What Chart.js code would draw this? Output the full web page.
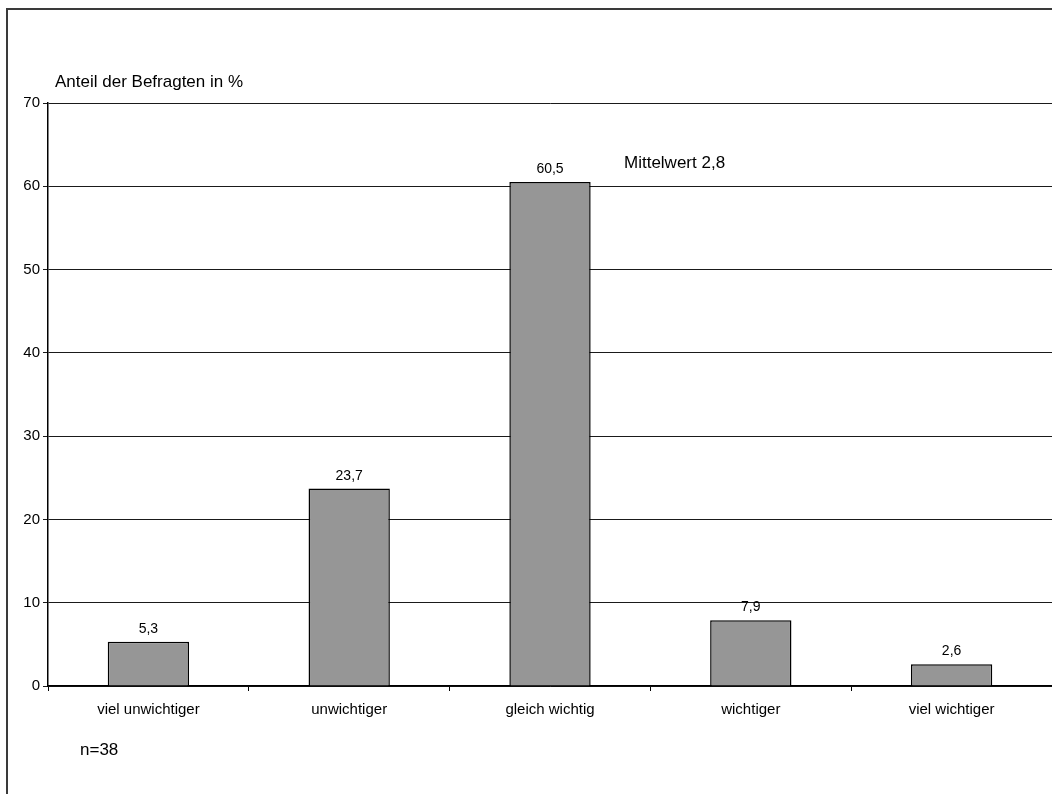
<!DOCTYPE html>
<html lang="de">
<head>
<meta charset="utf-8">
<title>Anteil der Befragten</title>
<script src="https://cdn.jsdelivr.net/npm/chart.js@4/dist/chart.umd.min.js"></script>
<style>
  html, body { margin: 0; padding: 0; background: #ffffff; }
  canvas { display: block; }
</style>
</head>
<body>
<canvas id="chart" width="1052" height="794"></canvas>
<script>
// Antwortkategorien und Anteile (in %)
const categories = ['viel unwichtiger', 'unwichtiger', 'gleich wichtig', 'wichtiger', 'viel wichtiger'];
const shares = [5.3, 23.7, 60.5, 7.9, 2.6];

// Achse
const yMin = 0;
const yMax = 70;
const yStep = 10;

// Beschriftungen
const axisTitle = 'Anteil der Befragten in %';
const meanLabel = 'Mittelwert 2,8';
const sampleLabel = 'n=38';

const FONT = '"Liberation Sans", Arial, Helvetica, sans-serif';

function formatDe(v) {
  return v.toFixed(1).replace('.', ',');
}

// Rahmen, Zusatztexte und Wertbeschriftungen über den Balken
const annotations = {
  id: 'annotations',
  afterDraw(chart) {
    const ctx = chart.ctx;
    ctx.save();

    // äußerer Rahmen
    ctx.strokeStyle = '#3a3a3a';
    ctx.lineWidth = 2;
    ctx.beginPath();
    ctx.moveTo(7, 820);
    ctx.lineTo(7, 9);
    ctx.lineTo(1080, 9);
    ctx.stroke();

    ctx.fillStyle = '#000000';
    ctx.textAlign = 'left';
    ctx.textBaseline = 'alphabetic';
    ctx.font = '17px ' + FONT;
    ctx.fillText(axisTitle, 55, 87);
    ctx.fillText(meanLabel, 624, 168);
    ctx.fillText(sampleLabel, 80, 755);

    // Werte über den Balken
    ctx.font = '14px ' + FONT;
    ctx.textAlign = 'center';
    const meta = chart.getDatasetMeta(0);
    meta.data.forEach((bar, i) => {
      ctx.fillText(formatDe(shares[i]), bar.x, bar.y - 9);
    });

    ctx.restore();
  }
};

new Chart(document.getElementById('chart'), {
  type: 'bar',
  data: {
    labels: categories,
    datasets: [{
      data: shares,
      backgroundColor: '#969696',
      borderColor: '#000000',
      borderWidth: 1.5,
      categoryPercentage: 1.0,
      barPercentage: 0.405
    }]
  },
  options: {
    responsive: false,
    animation: false,
    devicePixelRatio: 1,
    layout: { padding: { top: 103, left: 0, right: 0, bottom: 0 } },
    plugins: {
      legend: { display: false },
      tooltip: { enabled: false }
    },
    scales: {
      x: {
        offset: true,
        grid: {
          offset: true,
          drawOnChartArea: false,
          drawTicks: true,
          tickLength: 5,
          color: '#000000'
        },
        border: { color: '#000000', width: 1.5 },
        ticks: {
          color: '#000000',
          font: { family: FONT, size: 15 },
          padding: 10,
          maxRotation: 0,
          autoSkip: false
        },
        afterFit(scale) { scale.height = 108; }
      },
      y: {
        min: yMin,
        max: yMax,
        grid: {
          color: '#1a1a1a',
          tickLength: 5
        },
        border: { color: '#000000', width: 1.5 },
        ticks: {
          stepSize: yStep,
          color: '#000000',
          font: { family: FONT, size: 15 },
          padding: 3
        },
        afterFit(scale) { scale.width = 48; }
      }
    }
  },
  plugins: [annotations]
});
</script>
</body>
</html>
